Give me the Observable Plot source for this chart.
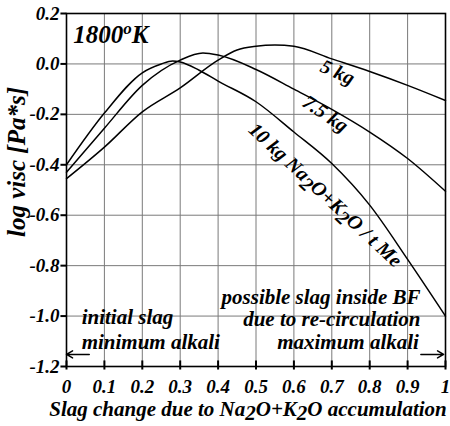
<!DOCTYPE html>
<html><head><meta charset="utf-8">
<script src="https://cdn.jsdelivr.net/npm/d3@7"></script>
<script src="https://cdn.jsdelivr.net/npm/@observablehq/plot@0.6"></script>
<style>
body{margin:0;background:#fff;}
svg text{font-style:italic !important;font-weight:bold !important;}
</style>
</head><body><div id="chart"></div>
<script>
// ---- data ----
const xTicks = [0, 0.1, 0.2, 0.3, 0.4, 0.5, 0.6, 0.7, 0.8, 0.9, 1];
const xTickLabels = ["0", "0.1", "0.2", "0.3", "0.4", "0.5", "0.6", "0.7", "0.8", "0.9", "1"];
const yTicks = [0.2, 0, -0.2, -0.4, -0.6, -0.8, -1.0, -1.2];
const yTickLabels = ["0.2", "0.0", "-0.2", "-0.4", "-0.6", "-0.8", "-1.0", "-1.2"];

const x10 = [0, 0.1, 0.2, 0.25, 0.28, 0.3, 0.35, 0.4, 0.5, 0.6, 0.7, 0.8, 0.9, 1.0];
const v10 = [-0.40, -0.195, -0.035, 0.0, 0.012, 0.008, -0.025, -0.068, -0.15, -0.27, -0.395, -0.56, -0.775, -1.0];
const x75 = [0, 0.1, 0.2, 0.3, 0.36, 0.4, 0.5, 0.6, 0.7, 0.8, 0.9, 1.0];
const v75 = [-0.43, -0.255, -0.085, 0.015, 0.043, 0.035, -0.022, -0.10, -0.18, -0.27, -0.375, -0.505];
const x5 = [0, 0.1, 0.2, 0.3, 0.4, 0.45, 0.5, 0.55, 0.6, 0.7, 0.8, 0.9, 1.0];
const v5 = [-0.455, -0.33, -0.19, -0.095, 0.015, 0.055, 0.07, 0.075, 0.07, 0.02, -0.03, -0.085, -0.145];

const seriesNames = ["5 kg", "7.5 kg", "10 kg"];
const curveLabels = ["5 kg", "7.5 kg", "10 kg Na2O+K2O / t Me"];
const title = "1800oK";
const xTitle = "Slag change due to Na2O+K2O accumulation";
const yTitle = "log visc [Pa*s]";
const leftNotes = ["initial slag", "minimum alkali"];
const rightNotes = ["possible slag inside BF", "due to re-circulation", "maximum alkali"];

// ---- build tables ----
const rows = [];
[[x5, v5], [x75, v75], [x10, v10]].forEach(([xs, vs], k) =>
  xs.forEach((x, i) => rows.push({series: seriesNames[k], x, v: vs[i]})));

const curveLabelPos = [
  {text: curveLabels[0], x: 0.715, v: -0.033, rotate: 24},
  {text: curveLabels[1], x: 0.683, v: -0.198, rotate: 34},
  {text: curveLabels[2], x: 0.683, v: -0.52, rotate: 43}
];
const leftPos = [
  {text: leftNotes[0], x: 0.04, v: -1.032},
  {text: leftNotes[1], x: 0.04, v: -1.131}
];
const rightPos = [
  {text: rightNotes[0], x: 0.934, v: -0.952},
  {text: rightNotes[1], x: 0.934, v: -1.04},
  {text: rightNotes[2], x: 0.93, v: -1.131}
];
const arrows = [
  {x1: 0.06, x2: 0.0, v: -1.152},
  {x1: 0.935, x2: 0.995, v: -1.152}
];

const font = "'Liberation Serif', 'Times New Roman', serif";
const xMap = new Map(xTicks.map((d, i) => [d, xTickLabels[i]]));
const yMap = new Map(yTicks.map((d, i) => [d, yTickLabels[i]]));
const txt = {fontStyle: "italic", fontWeight: "bold"};
const yMin = yTicks[yTicks.length - 1], yMax = yTicks[0];
const xMin = xTicks[0], xMax = xTicks[xTicks.length - 1];
const grid = {stroke: "#7a7a7a", strokeWidth: 1, strokeOpacity: 1};
const tickStyle = {stroke: "black", strokeWidth: 2, strokeOpacity: 1};
// tick lengths expressed in axis units (about 6px / 3px)
const tkX = 0.016, tkYin = 0.024, tkYout = 0.012;

const chart = Plot.plot({
  width: 450, height: 426,
  marginLeft: 66, marginRight: 5, marginTop: 13, marginBottom: 60,
  style: {fontFamily: font, fontSize: "18px", background: "white", color: "black"},
  x: {domain: [xMin, xMax]},
  y: {domain: [yMin, yMax]},
  marks: [
    Plot.link(xTicks.slice(1, -1), {x1: d => d, x2: d => d, y1: yMin, y2: yMax, ...grid}),
    Plot.link(yTicks.slice(1, -1), {x1: xMin, x2: xMax, y1: d => d, y2: d => d, ...grid}),
    Plot.line(rows, {x: "x", y: "v", z: "series", stroke: "black", strokeWidth: 1.5, curve: "monotone-x"}),
    Plot.frame({stroke: "black", strokeWidth: 1.6}),
    Plot.link(yTicks, {x1: xMin - tkX, x2: xMin, y1: d => d, y2: d => d, ...tickStyle}),
    Plot.link(xTicks, {x1: d => d, x2: d => d, y1: yMin - tkYout, y2: yMin + tkYin, ...tickStyle}),
    Plot.axisY(yTicks, {tickSize: 0, tickPadding: 7, tickFormat: d => yMap.get(d), label: null, fontSize: 19, ...txt}),
    Plot.axisX(xTicks, {tickSize: 0, tickPadding: 13, tickFormat: d => xMap.get(d), label: null, fontSize: 19, ...txt}),
    Plot.text(curveLabelPos, {x: "x", y: "v", text: "text", rotate: "rotate", fontSize: 20, textAnchor: "middle", ...txt}),
    Plot.text(leftPos, {x: "x", y: "v", text: "text", textAnchor: "start", lineAnchor: "bottom", fontSize: 21, ...txt}),
    Plot.text(rightPos, {x: "x", y: "v", text: "text", textAnchor: "end", lineAnchor: "bottom", fontSize: 21, ...txt}),
    Plot.text([title], {x: 0.018, y: 0.084, text: d => d, textAnchor: "start", lineAnchor: "bottom", fontSize: 25, ...txt}),
    Plot.text([xTitle], {frameAnchor: "bottom", dx: -8, dy: 49, text: d => d, textAnchor: "middle", lineAnchor: "bottom", fontSize: 21, ...txt}),
    Plot.text([yTitle], {frameAnchor: "left", dx: -42, dy: -28, rotate: -90, text: d => d, textAnchor: "middle", lineAnchor: "bottom", fontSize: 25, ...txt}),
    Plot.arrow(arrows, {x1: "x1", x2: "x2", y1: "v", y2: "v", stroke: "black", strokeWidth: 1.5, headLength: 7})
  ]
});

document.getElementById("chart").appendChild(chart);

function rich(textEl, parts) {
  const sel = d3.select(textEl);
  sel.text(null);
  let cur = 0;
  parts.forEach(p => {
    const shift = p.shift || 0;
    const t = sel.append("tspan").text(p.t);
    if (shift !== cur) t.attr("dy", shift - cur);
    if (p.size) t.attr("font-size", p.size);
    cur = shift;
  });
}
d3.select(chart).selectAll("text").each(function () {
  const s = this.textContent;
  if (s === curveLabels[2]) {
    rich(this, [{t: "10 kg Na"}, {t: "2", shift: 5}, {t: "O+K"}, {t: "2", shift: 5}, {t: "O / t Me"}]);
  } else if (s === xTitle) {
    rich(this, [{t: "Slag change due to Na"}, {t: "2", shift: 4}, {t: "O+K"}, {t: "2", shift: 4}, {t: "O accumulation"}]);
  } else if (s === title) {
    rich(this, [{t: "1800"}, {t: "o", shift: -9, size: 17}, {t: "K"}]);
  }
});
</script>
</body></html>
